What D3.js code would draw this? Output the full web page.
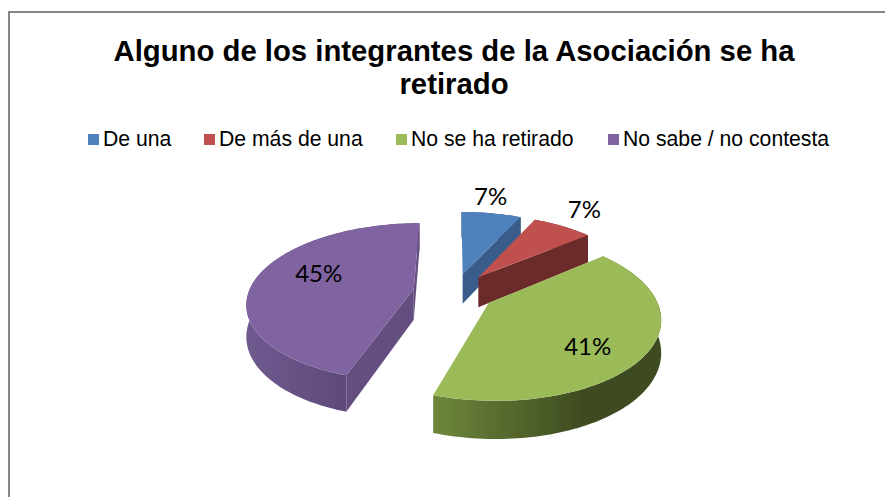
<!DOCTYPE html>
<html><head><meta charset="utf-8">
<script src="https://cdnjs.cloudflare.com/ajax/libs/d3/7.8.5/d3.min.js"></script>
<style>html,body{margin:0;padding:0;background:#fff;overflow:hidden}svg{display:block}</style>
</head><body><svg id="c" width="885" height="497"></svg>
<script>
const titleLines = ["Alguno de los integrantes de la Asociación se ha", "retirado"];
const categories = ["De una", "De más de una", "No se ha retirado", "No sabe / no contesta"];
const values = [7, 7, 41, 45];
const topColors = ["#4F81BD", "#C0504D", "#9BBB59", "#8064A2"];
const cutColors = ["#385D8A", "#6B2B2A", "#6B2B2A", "#644D7F"];
const rimLight = ["#385D8A", "#8A3A38", "#6E873B", "#6F5A90"];
const rimDark = ["#2C4A6E", "#6B2B2A", "#3E4B20", "#523D6B"];
// index of the slices' draw order, back to front
const drawOrder = [0, 1, 3, 2];
const legendTextX = [103, 219, 411, 623];
const labelRadius = [1.3, 1.3, 0.6, 0.6];
const labelShift = [[-8, -3], [0, -5], [8, 13], [0, -9]];

const svg = d3.select("#c");
const cx = 454, cy = 292, R = 165, explode = 41, tilt = 0.47, persp = 0.17, perspBase = 170, depth = 31;

svg.append("rect").attr("x", 9).attr("y", 12).attr("width", 900).attr("height", 520)
  .attr("fill", "#fff").attr("stroke", "#868686").attr("stroke-width", 2);

svg.selectAll("text.title").data(titleLines).join("text").attr("class", "title")
  .attr("x", 454).attr("y", (d, i) => 61 + i * 33).attr("text-anchor", "middle")
  .attr("font-family", "Liberation Sans").attr("font-weight", "bold").attr("font-size", 29.3)
  .attr("fill", "#000").text(d => d);

const legend = svg.selectAll("g.leg").data(categories).join("g").attr("class", "leg");
legend.append("rect").attr("x", (d, i) => legendTextX[i] - 15).attr("y", 134)
  .attr("width", 11).attr("height", 11).attr("fill", (d, i) => topColors[i]);
legend.append("text").attr("x", (d, i) => legendTextX[i]).attr("y", 146)
  .attr("font-family", "Liberation Sans").attr("font-size", 21.2).attr("fill", "#000").text(d => d);

const arcs = d3.pie().sort(null)(values);
const total = d3.sum(values);
const rad = d3.scaleLinear().domain([0, 1]).range([0, R]);

function project(a, theta, r, lift) {
  const mid = (a.startAngle + a.endAngle) / 2;
  const X = explode * Math.sin(mid) + r * Math.sin(theta);
  const Z = -explode * Math.cos(mid) - r * Math.cos(theta);
  const s = 1 / (1 - persp * Z / perspBase);
  return [cx + X * s, cy + (Z * tilt + lift) * s];
}
const closed = d3.line().curve(d3.curveLinearClosed);
const defs = svg.append("defs");

function arcPoints(a, lift) {
  const n = Math.max(8, Math.ceil((a.endAngle - a.startAngle) * 40));
  return d3.range(n + 1).map(k => project(a, a.startAngle + (a.endAngle - a.startAngle) * k / n, R, lift));
}

drawOrder.forEach(i => {
  const a = arcs[i];
  const g = svg.append("g");
  const top = arcPoints(a, 0), bot = arcPoints(a, depth);
  const xs = top.map(p => p[0]);
  const grad = defs.append("linearGradient").attr("id", "rim" + i).attr("gradientUnits", "userSpaceOnUse")
    .attr("x1", d3.min(xs)).attr("x2", i === 2 ? d3.min(xs) + 150 : d3.max(xs)).attr("y1", 0).attr("y2", 0);
  grad.append("stop").attr("offset", 0).attr("stop-color", rimLight[i]);
  grad.append("stop").attr("offset", 1).attr("stop-color", rimDark[i]);

  // outer wall
  g.append("path").attr("d", closed(top.concat(bot.slice().reverse()))).attr("fill", `url(#rim${i})`);

  const apexT = project(a, 0, 0, 0), apexB = project(a, 0, 0, depth);
  // cut faces: only those that face the viewer
  const faces = i === 3 ? [a.endAngle, a.startAngle] : i === 2 ? [] : [a.endAngle];
  faces.forEach(t => {
    const p = project(a, t, R, 0), q = project(a, t, R, depth);
    g.append("path").attr("d", closed([apexT, p, q, apexB])).attr("fill", cutColors[i]);
  });

  // top surface
  g.append("path").attr("d", closed([apexT].concat(top))).attr("fill", topColors[i]);
});

svg.selectAll("text.pct").data(arcs).join("text").attr("class", "pct")
  .attr("transform", (a, i) => {
    const m = (a.startAngle + a.endAngle) / 2;
    const p = project(a, m, rad(labelRadius[i]), 0);
    return `translate(${p[0] + labelShift[i][0]},${p[1] + labelShift[i][1]})`;
  })
  .attr("text-anchor", "middle").attr("dominant-baseline", "central")
  .attr("font-family", "Lato").attr("font-size", 24).attr("fill", "#000")
  .text(a => Math.round(a.data / total * 100) + "%");
</script></body></html>
